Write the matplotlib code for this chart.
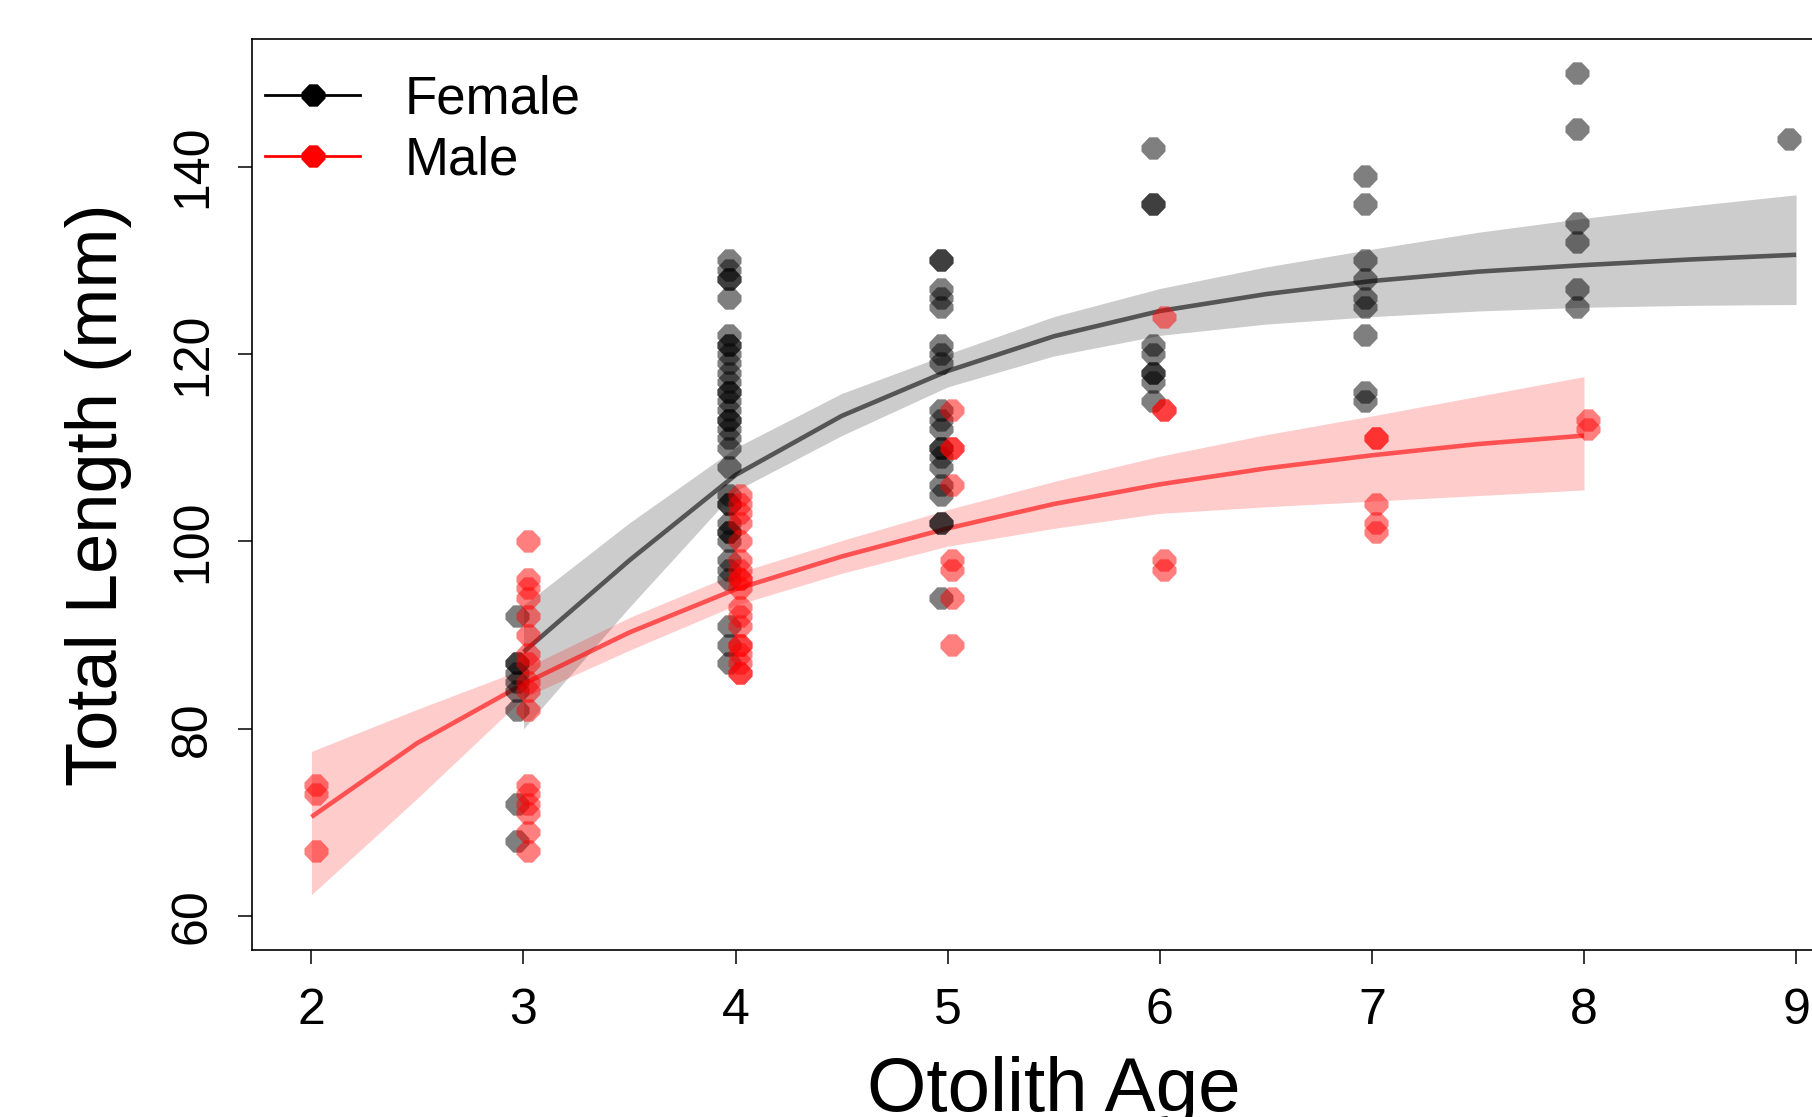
import numpy as np
import matplotlib
matplotlib.use("Agg")
import matplotlib.pyplot as plt
from matplotlib.lines import Line2D
from matplotlib.path import Path

plt.rcParams['font.family'] = ['Liberation Sans', 'DejaVu Sans']

# ---------------- data ----------------
# Observed total lengths (mm) by otolith age
female_age3 = [92, 87, 87, 86, 85, 84, 82, 72, 68]
female_age4 = [130, 129, 128, 128, 126, 122, 121, 121, 120, 119, 118, 117, 116, 116,
               115, 114, 113, 113, 112, 111, 110, 108, 105, 104, 104, 102, 101, 101,
               100, 98, 97, 96, 91, 89, 87]
female_age5 = [130, 130, 127, 126, 125, 121, 120, 119, 114, 113, 112, 110, 110, 109,
               108, 106, 105, 102, 102, 94]
female_age6 = [142, 136, 136, 121, 120, 118, 118, 117, 115]
female_age7 = [139, 136, 130, 128, 126, 125, 122, 116, 115]
female_age8 = [150, 144, 134, 132, 127, 125]
female_age9 = [143]

male_age2 = [74, 73, 67]
male_age3 = [100, 96, 95, 94, 92, 90, 88, 87, 85, 84, 82, 74, 73, 72, 71, 69, 67]
male_age4 = [105, 104, 103, 102, 100, 98, 97, 96, 96, 95, 93, 92, 91, 89, 89, 88,
             87, 86, 86]
male_age5 = [114, 110, 110, 106, 98, 97, 94, 89]
male_age6 = [124, 114, 114, 98, 97]
male_age7 = [111, 111, 104, 102, 101]
male_age8 = [113, 112]

# Fitted growth curves with confidence bands
female_fit_age = [3.0, 3.5, 4.0, 4.5, 5.0, 5.5, 6.0, 6.5, 7.0, 7.5, 8.0, 8.5, 9.0]
female_fit = [88.2, 98.0, 107.1, 113.4, 118.2, 121.9, 124.6, 126.4, 127.8, 128.8, 129.5, 130.1, 130.6]
female_upper = [93.2, 102.0, 110.0, 115.8, 120.0, 124.0, 127.0, 129.3, 131.2, 133.0, 134.5, 135.8, 137.0]
female_lower = [80.0, 93.0, 105.4, 111.3, 116.5, 119.8, 122.0, 123.2, 124.0, 124.6, 125.0, 125.2, 125.3]

male_fit_age = [2.0, 2.5, 3.0, 3.5, 4.0, 4.5, 5.0, 5.5, 6.0, 6.5, 7.0, 7.5, 8.0]
male_fit = [70.6, 78.5, 84.8, 90.3, 94.9, 98.4, 101.4, 104.0, 106.1, 107.8, 109.2, 110.4, 111.3]
male_upper = [77.6, 82.1, 86.4, 91.9, 96.6, 100.1, 103.4, 106.4, 109.1, 111.4, 113.4, 115.5, 117.6]
male_lower = [62.3, 72.6, 83.3, 88.4, 93.2, 96.6, 99.5, 101.4, 103.0, 103.7, 104.3, 104.9, 105.5]

x_ticks = [2, 3, 4, 5, 6, 7, 8, 9]
y_ticks = [60, 80, 100, 120, 140]
legend_labels = ["Female", "Male"]

# ---------------- style ----------------
FEMALE_DX = -0.032
MALE_DX = 0.02

female_groups = [(3, female_age3), (4, female_age4), (5, female_age5), (6, female_age6),
                 (7, female_age7), (8, female_age8), (9, female_age9)]
male_groups = [(2, male_age2), (3, male_age3), (4, male_age4), (5, male_age5),
               (6, male_age6), (7, male_age7), (8, male_age8)]

fx, fy = [], []
for a, vals in female_groups:
    fx += [a + FEMALE_DX] * len(vals)
    fy += vals
mx, my = [], []
for a, vals in male_groups:
    mx += [a + MALE_DX] * len(vals)
    my += vals

# R pch=18-like diamond (slightly clipped tips)
verts = [(1, 0.25), (0.35, 0.93), (-0.35, 0.93), (-1, 0.25), (-1, -0.25),
         (-0.35, -0.93), (0.35, -0.93), (1, -0.25), (1, 0.25)]
codes = [Path.MOVETO] + [Path.LINETO] * 7 + [Path.CLOSEPOLY]
diamond = Path(verts, codes)

W, H = 1812, 1117
fig = plt.figure(figsize=(W / 100, H / 100), dpi=100)
ax_left, ax_right, ax_top, ax_bottom = 252, 1855.5, 39.3, 950
ax = fig.add_axes([ax_left / W, (H - ax_bottom) / H,
                   (ax_right - ax_left) / W, (ax_bottom - ax_top) / H])

ax.fill_between(female_fit_age, female_lower, female_upper, color='black', alpha=0.2,
                linewidth=0, zorder=1)
ax.fill_between(male_fit_age, male_lower, male_upper, color='red', alpha=0.2,
                linewidth=0, zorder=1)
ax.plot(female_fit_age, female_fit, color='black', alpha=0.58, linewidth=3.3, zorder=2,
        solid_capstyle='butt', solid_joinstyle='round')
ax.plot(male_fit_age, male_fit, color='red', alpha=0.6, linewidth=3.3, zorder=2,
        solid_capstyle='butt', solid_joinstyle='round')

ax.plot(fx, fy, linestyle='none', marker=diamond, markersize=17.3, markeredgewidth=0,
        color='black', alpha=0.5, zorder=3)
ax.plot(mx, my, linestyle='none', marker=diamond, markersize=17.3, markeredgewidth=0,
        color='red', alpha=0.5, zorder=4)

ax.set_xlim(1.72, 9.28)
ax.set_ylim(56.4, 153.6)
ax.set_xticks(x_ticks)
ax.set_xticklabels([str(t) for t in x_ticks])
ax.set_yticks(y_ticks)
ax.set_yticklabels([str(t) for t in y_ticks])

for s in ax.spines.values():
    s.set_linewidth(1.2)
    s.set_color('black')

ax.tick_params(axis='both', direction='out', length=10, width=1.1, labelsize=36,
               colors='black')
ax.tick_params(axis='x', pad=17)
ax.tick_params(axis='y', pad=16, labelrotation=90)
for lab in ax.get_yticklabels():
    lab.set_va('center')

fig.text((ax_left + ax_right) / 2 / W, (H - 1111) / H, "Otolith Age", fontsize=55,
         ha='center', va='baseline')
fig.text(117 / W, (H - 494.6) / H, "Total Length (mm)", fontsize=52, rotation=90,
         rotation_mode='anchor', ha='center', va='baseline')

handles = [Line2D([], [], color='black', linewidth=2.0, marker=diamond, markersize=17.3,
                  markeredgewidth=0),
           Line2D([], [], color='red', linewidth=2.0, marker=diamond, markersize=17.3,
                  markeredgewidth=0)]
leg = ax.legend(handles, legend_labels, loc='upper left',
                bbox_to_anchor=((265 - ax_left) / (ax_right - ax_left),
                                1 - (74 - ax_top) / (ax_bottom - ax_top)),
                frameon=False, fontsize=38, handlelength=1.8, handletextpad=0.85,
                labelspacing=0.22, borderaxespad=0, borderpad=0, numpoints=1)

fig.savefig("out.png", dpi=100)
